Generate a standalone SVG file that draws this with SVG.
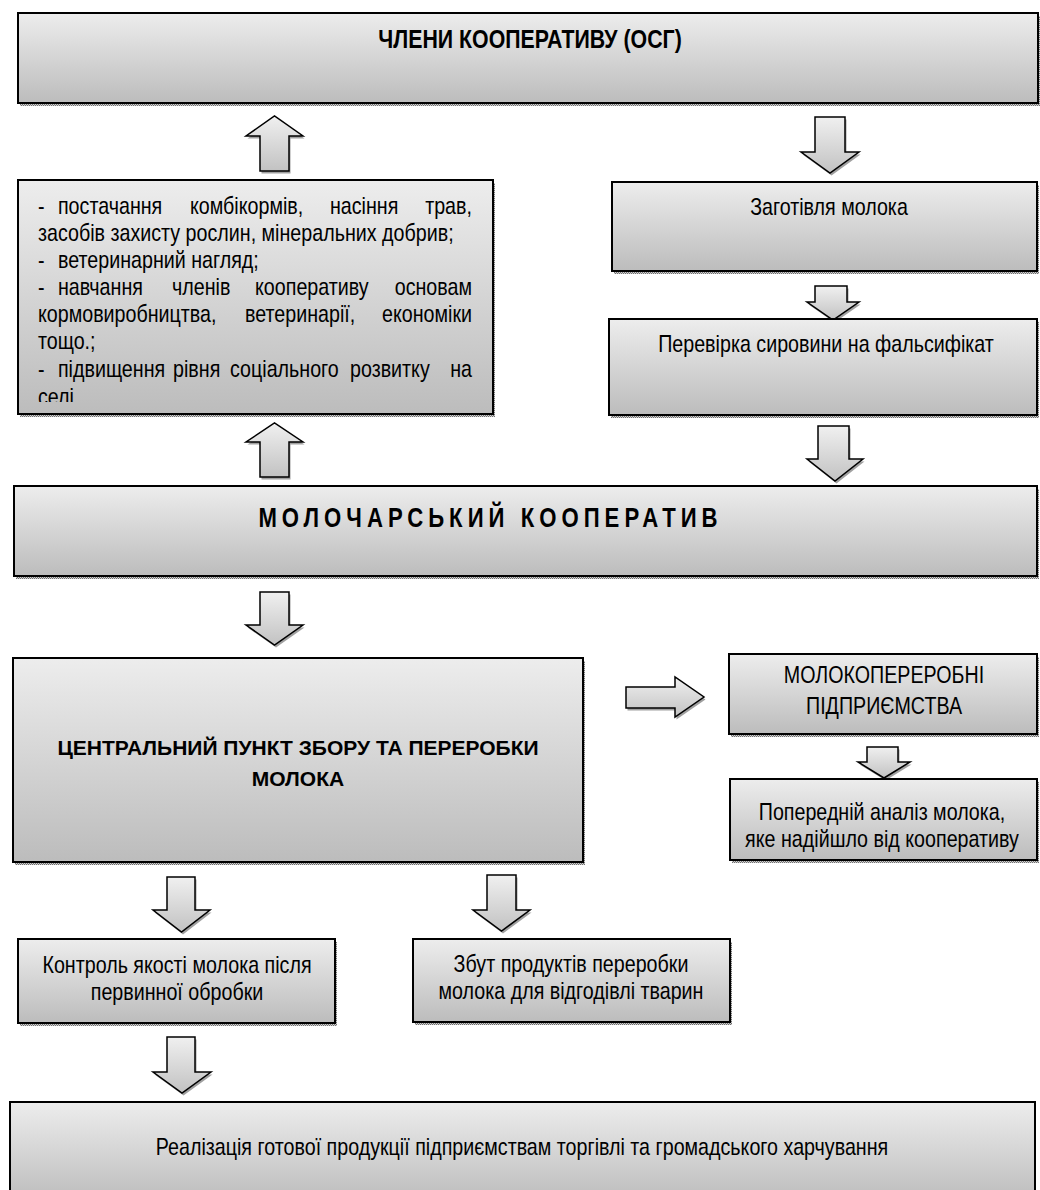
<svg xmlns="http://www.w3.org/2000/svg" width="1040" height="1190" viewBox="0 0 1040 1190">
<style>
.box{fill:url(#gbox);stroke:#000;stroke-width:2}
.shd{fill:url(#dith)}
.arr{fill:url(#garr);stroke:#000;stroke-width:1.5;stroke-linejoin:miter}
.t{font-family:"Liberation Sans",Arial,sans-serif;font-size:24px;fill:#000}
.tb{font-family:"Liberation Sans",Arial,sans-serif;font-size:26px;font-weight:bold;fill:#000}
.tc{font-family:"Liberation Sans",Arial,sans-serif;font-size:21px;font-weight:bold;fill:#000}
.tm{font-family:"Liberation Sans",Arial,sans-serif;font-size:27px;font-weight:bold;fill:#000}
</style>
<defs>
<linearGradient id="gbox" x1="0" y1="0" x2="0" y2="1"><stop offset="0" stop-color="#ededed"/><stop offset="1" stop-color="#bcbcbc"/></linearGradient>
<linearGradient id="garr" x1="0" y1="0" x2="0" y2="1"><stop offset="0" stop-color="#f0f0f0"/><stop offset="1" stop-color="#c2c2c2"/></linearGradient>
<pattern id="dith" width="2" height="2" patternUnits="userSpaceOnUse"><rect width="2" height="2" fill="#d0d0d0"/><rect width="1" height="1" fill="#707070"/><rect x="1" y="1" width="1" height="1" fill="#707070"/></pattern>
<clipPath id="clipL"><rect x="20" y="182" width="471" height="220"/></clipPath>
</defs>
<rect width="1040" height="1190" fill="#fff"/>

<g id="connectors">
<g transform="translate(1.5,2.5)" class="shd">
<path d="M260,171 V136 H246 L274.5,116 L303,136 H289 V171 Z"/>
<path d="M260,477 V442 H246 L274.5,423 L303,442 H289 V477 Z"/>
<path d="M815,117 H845 V152 H859 L830,173 L801,152 H815 Z"/>
<path d="M815,286 H847 V302 H859 L833,320 L807,302 H815 Z"/>
<path d="M818,426 H849 V459 H863 L835,481 L807,459 H818 Z"/>
<path d="M260,592 H289 V625 H303 L274.5,645 L246,625 H260 Z"/>
<path d="M626,687 H675 V677 L704,697 L675,717 V708 H626 Z"/>
<path d="M867,747 H898 V762 H910 L884,778 L858,762 H867 Z"/>
<path d="M167,877 H195 V910 H210 L181.5,932 L153,910 H167 Z"/>
<path d="M487,875 H516 V910 H530 L501.5,931 L473,910 H487 Z"/>
<path d="M167,1037 H195 V1072 H211 L182,1093 L153,1072 H167 Z"/>
</g>
<path id="a-up1" class="arr" d="M260,171 V136 H246 L274.5,116 L303,136 H289 V171 Z"/>
<path id="a-up2" class="arr" d="M260,477 V442 H246 L274.5,423 L303,442 H289 V477 Z"/>
<path id="a-d1" class="arr" d="M815,117 H845 V152 H859 L830,173 L801,152 H815 Z"/>
<path id="a-d2" class="arr" d="M815,286 H847 V302 H859 L833,320 L807,302 H815 Z"/>
<path id="a-d3" class="arr" d="M818,426 H849 V459 H863 L835,481 L807,459 H818 Z"/>
<path id="a-d4" class="arr" d="M260,592 H289 V625 H303 L274.5,645 L246,625 H260 Z"/>
<path id="a-r1" class="arr" d="M626,687 H675 V677 L704,697 L675,717 V708 H626 Z"/>
<path id="a-d5" class="arr" d="M867,747 H898 V762 H910 L884,778 L858,762 H867 Z"/>
<path id="a-d6" class="arr" d="M167,877 H195 V910 H210 L181.5,932 L153,910 H167 Z"/>
<path id="a-d7" class="arr" d="M487,875 H516 V910 H530 L501.5,931 L473,910 H487 Z"/>
<path id="a-d8" class="arr" d="M167,1037 H195 V1072 H211 L182,1093 L153,1072 H167 Z"/>
</g>

<g id="members">
<rect class="shd" x="20" y="16" width="1020" height="90"/>
<rect class="box" x="18" y="13" width="1020" height="90"/>
<text class="tb" transform="translate(530,48) scale(0.82,1)" text-anchor="middle">ЧЛЕНИ КООПЕРАТИВУ (ОСГ)</text>
</g>

<g id="services">
<rect class="shd" x="20" y="183" width="475" height="234"/>
<rect class="box" x="18" y="180" width="475" height="234"/>
<g clip-path="url(#clipL)">
<g class="t" transform="scale(0.82,1)">
<text x="46.3" y="214">-</text><text x="70.7" y="214">постачання</text><text x="231.7" y="214">комбікормів,</text><text x="402.4" y="214">насіння</text><text x="575.6" y="214" text-anchor="end">трав,</text>
<text x="46.3" y="241.5">засобів захисту рослин, мінеральних добрив;</text>
<text x="46.3" y="268">-</text><text x="70.7" y="268">ветеринарний нагляд;</text>
<text x="46.3" y="295">-</text><text x="70.7" y="295">навчання</text><text x="209.8" y="295">членів</text><text x="311" y="295">кооперативу</text><text x="575.6" y="295" text-anchor="end">основам</text>
<text x="46.3" y="322">кормовиробництва,</text><text x="298.8" y="322">ветеринарії,</text><text x="575.6" y="322" text-anchor="end">економіки</text>
<text x="46.3" y="349.5">тощо.;</text>
<text x="46.3" y="377">-</text><text x="70.7" y="377">підвищення</text><text x="211" y="377">рівня</text><text x="280.5" y="377">соціального</text><text x="426.8" y="377">розвитку</text><text x="575.6" y="377" text-anchor="end">на</text>
<text x="46.3" y="405">селі</text>
</g>
</g>
</g>

<g id="procurement">
<rect class="shd" x="614" y="185" width="425" height="89"/>
<rect class="box" x="612" y="182" width="425" height="89"/>
<text class="t" transform="translate(829,215) scale(0.82,1)" text-anchor="middle">Заготівля молока</text>
</g>

<g id="check">
<rect class="shd" x="611" y="322" width="428" height="96"/>
<rect class="box" x="609" y="319" width="428" height="96"/>
<text class="t" transform="translate(826,352) scale(0.82,1)" text-anchor="middle">Перевірка сировини на фальсифікат</text>
</g>

<g id="dairy-coop">
<rect class="shd" x="16" y="489" width="1023" height="90"/>
<rect class="box" x="14" y="486" width="1023" height="90"/>
<text class="tm" transform="translate(488,527) scale(0.82,1)" text-anchor="middle" textLength="560" lengthAdjust="spacing">МОЛОЧАРСЬКИЙ КООПЕРАТИВ</text>
</g>

<g id="central">
<rect class="shd" x="15" y="661" width="570" height="204"/>
<rect class="box" x="13" y="658" width="570" height="204"/>
<text class="tc" x="298" y="755" text-anchor="middle">ЦЕНТРАЛЬНИЙ ПУНКТ ЗБОРУ ТА ПЕРЕРОБКИ</text>
<text class="tc" x="298" y="786" text-anchor="middle">МОЛОКА</text>
</g>

<g id="processors">
<rect class="shd" x="731" y="657" width="308" height="80"/>
<rect class="box" x="729" y="654" width="308" height="80"/>
<text class="t" transform="translate(884,683) scale(0.82,1)" text-anchor="middle">МОЛОКОПЕРЕРОБНІ</text>
<text class="t" transform="translate(884,714) scale(0.82,1)" text-anchor="middle">ПІДПРИЄМСТВА</text>
</g>

<g id="preanalysis">
<rect class="shd" x="732" y="782" width="307" height="81"/>
<rect class="box" x="730" y="779" width="307" height="81"/>
<text class="t" transform="translate(882,820) scale(0.82,1)" text-anchor="middle">Попередній аналіз молока,</text>
<text class="t" transform="translate(882,847) scale(0.82,1)" text-anchor="middle">яке надійшло від кооперативу</text>
</g>

<g id="quality">
<rect class="shd" x="20" y="942" width="317" height="84"/>
<rect class="box" x="18" y="939" width="317" height="84"/>
<text class="t" transform="translate(177,973) scale(0.82,1)" text-anchor="middle">Контроль якості молока після</text>
<text class="t" transform="translate(177,1000) scale(0.82,1)" text-anchor="middle">первинної обробки</text>
</g>

<g id="sales">
<rect class="shd" x="415" y="942" width="317" height="83"/>
<rect class="box" x="413" y="939" width="317" height="83"/>
<text class="t" transform="translate(571,972) scale(0.82,1)" text-anchor="middle">Збут продуктів переробки</text>
<text class="t" transform="translate(571,999) scale(0.82,1)" text-anchor="middle">молока для відгодівлі тварин</text>
</g>

<g id="realization">
<rect class="box" x="10" y="1102" width="1025" height="100"/>
<text class="t" transform="translate(522,1155) scale(0.82,1)" text-anchor="middle">Реалізація готової продукції підприємствам торгівлі та громадського харчування</text>
</g>
</svg>
